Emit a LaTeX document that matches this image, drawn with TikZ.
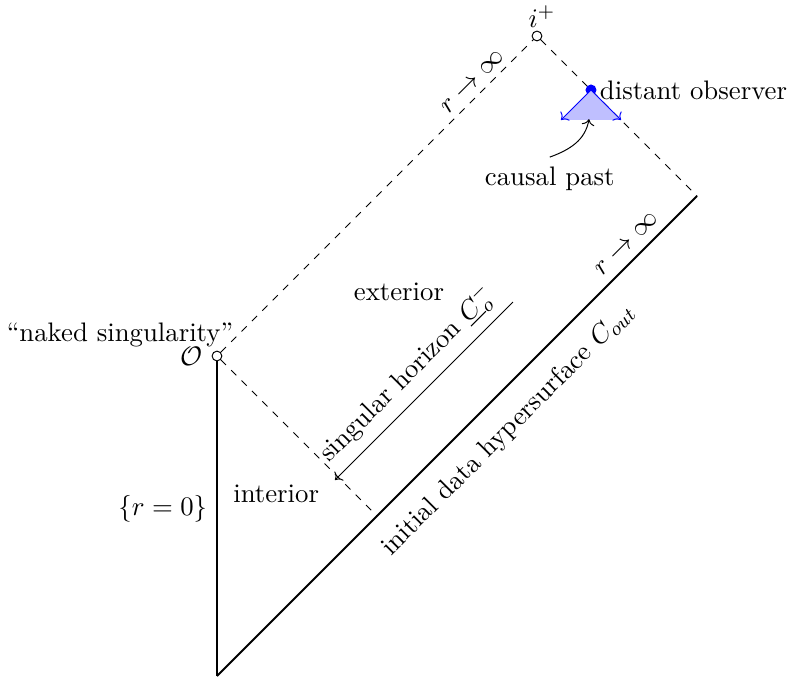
\documentclass[tikz,border=0pt,11pt]{standalone}
\usetikzlibrary{arrows.meta}

\begin{document}
\begin{tikzpicture}[x=2.3cm, y=2.3cm,
  endpt/.style = {circle, draw, fill=white, inner sep=0pt, minimum size=4pt},
  bdry/.style  = {thick},
  nul/.style   = {dashed},
  obsdot/.style = {circle, fill=blue, inner sep=0pt, minimum size=4.5pt},
  cone/.style  = {blue, ->},
]
\useasboundingbox (-1.356,-0.0125) rectangle (3.5625,4.225);

\coordinate (base)   at (0,0);
\coordinate (corner) at (3,3);
\coordinate (foot)   at (1,1);
\node[endpt] (orig)  at (0,2) {};
\node[endpt] (iplus) at (2,4) {};

% centre line and initial data
\draw[bdry] (orig) -- node[left, pos=0.47] {$\{r=0\}$} (base);
\draw[bdry] (base)
  -- node[sloped, below=4pt, pos=0.56] {initial data hypersurface $C_{out}$}
     node[sloped, above, pos=0.877] {$r\to\infty$}
  (corner);

% null boundaries
\draw[nul] (orig) -- node[sloped, above=-1pt, pos=0.836] {$r\to\infty$} (iplus);
\draw[nul] (iplus) -- (corner);
\draw[nul] (orig) -- (foot);

% singular horizon
\coordinate (hzlo) at (0.7375,1.225);
\coordinate (hzhi) at (1.85,2.3375);
\draw[<-] (hzlo)
  -- node[sloped, above, pos=0.5] {singular horizon $\underline{C}_o^-$}
  (hzhi);

% labels
\node[left] at (orig.west) {$\mathcal{O}$};
\node (naked) at (-0.606,2.131) {``naked singularity''};
\node[above=1pt, xshift=2pt, inner sep=0pt] at (iplus.north) {$i^+$};
\node (ext) at (1.1375,2.4) {exterior};
\node (int) at (0.37,1.14) {interior};

% observer and its causal past
\node[obsdot] (obs) at (2.3375,3.6625) {};
\node[right, inner sep=1pt] at (obs.east) {distant observer};
\coordinate (pl) at (2.15,3.475);
\coordinate (pr) at (2.525,3.475);
\coordinate (pbot) at (2.325,3.48);
\fill[blue!25] (obs.center) -- (pl) -- (pr) -- cycle;
\draw[cone] (obs.center) -- (pl);
\draw[cone] (obs.center) -- (pr);
\node (cp) at (2.08,3.11) {causal past};
\draw[->] (cp.north) to[out=20, in=-100] (pbot);

\end{tikzpicture}
\end{document}
